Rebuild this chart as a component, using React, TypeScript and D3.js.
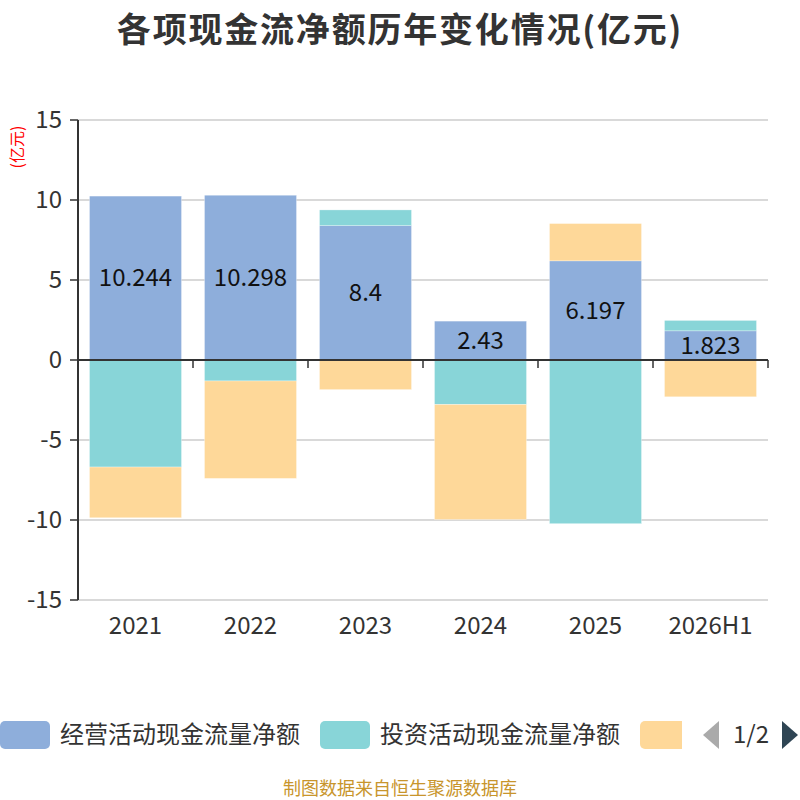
import React from 'react';
import * as d3 from 'd3';

const categories = ['2021', '2022', '2023', '2024', '2025', '2026H1'];
const seriesNames = ['经营活动现金流量净额', '投资活动现金流量净额', '筹资活动现金流量净额'];
const operating = [10.244, 10.298, 8.4, 2.43, 6.197, 1.823];
const investing = [-6.69, -1.31, 0.98, -2.78, -10.23, 0.65];
const financing = [-3.17, -6.09, -1.85, -7.19, 2.33, -2.3];
const yTicks = [-15, -10, -5, 0, 5, 10, 15];
const colors = ['#8eaedb', '#88d5d8', '#fed899'];

const font = '"Noto Sans CJK SC", "Noto Sans", sans-serif';

const App: React.FC = () => {
  const width = 800;
  const height = 800;
  const margin = { top: 120, right: 32, bottom: 200, left: 78 };

  const x = d3.scaleBand<string>()
    .domain(categories)
    .range([margin.left, width - margin.right])
    .paddingInner(0.2)
    .paddingOuter(0.1);
  const step = x.step();
  const y = d3.scaleLinear().domain([-15, 15]).range([height - margin.bottom, margin.top]);

  const rows = categories.map((c, i) => ({
    cat: c, s0: operating[i], s1: investing[i], s2: financing[i],
  }));
  const stacked = d3.stack<any>()
    .keys(['s0', 's1', 's2'])
    .offset(d3.stackOffsetDiverging)(rows);

  const boundaries = d3.range(categories.length + 1).map(i => margin.left + i * step);

  return (
    <svg width={width} height={height} style={{ display: 'block', position: 'absolute', left: 0, top: 0 }} fontFamily={font}>
      <rect width={width} height={height} fill="#fff" />
      <text x={400} y={42} textAnchor="middle" fontSize={34} fontWeight="bold" fill="#333" letterSpacing={1.8}>
        各项现金流净额历年变化情况(亿元)
      </text>
      <text transform="translate(23,147) rotate(-90)" textAnchor="middle" fontSize={16} fill="#f00">(亿元)</text>

      {yTicks.map(t => (
        <g key={t}>
          {t !== 0 && (
            <line x1={margin.left} x2={width - margin.right} y1={y(t)} y2={y(t)} stroke="#ccc" strokeWidth={1.5} />
          )}
          <line x1={margin.left - 8} x2={margin.left} y1={y(t)} y2={y(t)} stroke="#333" strokeWidth={1.5} />
          <text x={margin.left - 16} y={y(t)} dy="0.35em" textAnchor="end" fontSize={24} fill="#333">{t}</text>
        </g>
      ))}

      {stacked.map((layer, si) => (
        <g key={si} fill={colors[si]}>
          {layer.map((d, i) => {
            const y0 = y(Math.max(d[0], d[1]));
            const y1 = y(Math.min(d[0], d[1]));
            return (
              <rect key={i} x={x(categories[i])} width={x.bandwidth()} y={y0} height={y1 - y0}
                stroke="#fff" strokeOpacity={0.5} strokeWidth={0.6} />
            );
          })}
        </g>
      ))}

      <line x1={margin.left} x2={margin.left} y1={y(15)} y2={y(-15)} stroke="#333" strokeWidth={2} />
      <line x1={margin.left} x2={width - margin.right} y1={y(0)} y2={y(0)} stroke="#333" strokeWidth={2} />
      {boundaries.slice(1).map((b, i) => (
        <line key={i} x1={b} x2={b} y1={y(0)} y2={y(0) + 8} stroke="#333" strokeWidth={1.5} />
      ))}

      {operating.map((v, i) => (
        <text key={i} x={(x(categories[i]) as number) + x.bandwidth() / 2} y={(y(v) + y(0)) / 2}
          dy="0.35em" textAnchor="middle" fontSize={24} fill="#111">{v}</text>
      ))}

      {categories.map(c => (
        <text key={c} x={(x(c) as number) + x.bandwidth() / 2} y={626} dy="0.35em" textAnchor="middle" fontSize={24} fill="#333">{c}</text>
      ))}

      <g>
        <rect x={0} y={721} width={50} height={28} rx={5} fill={colors[0]} />
        <text x={60} y={735} dy="0.35em" fontSize={24} fill="#333">{seriesNames[0]}</text>
        <rect x={320} y={721} width={50} height={28} rx={5} fill={colors[1]} />
        <text x={380} y={735} dy="0.35em" fontSize={24} fill="#333">{seriesNames[1]}</text>
        <clipPath id="legclip"><rect x={0} y={700} width={682} height={60} /></clipPath>
        <rect x={640} y={721} width={50} height={28} rx={5} fill={colors[2]} clipPath="url(#legclip)" />
        <path d="M719,721 L703,735 L719,749 Z" fill="#aaa" />
        <text x={751} y={735} dy="0.35em" textAnchor="middle" fontSize={24} fill="#333">1/2</text>
        <path d="M782,721 L798,735 L782,749 Z" fill="#2f4554" />
      </g>

      <text x={400} y={795} textAnchor="middle" fontSize={18} fill="#c8952c">制图数据来自恒生聚源数据库</text>
    </svg>
  );
};

export default App;
